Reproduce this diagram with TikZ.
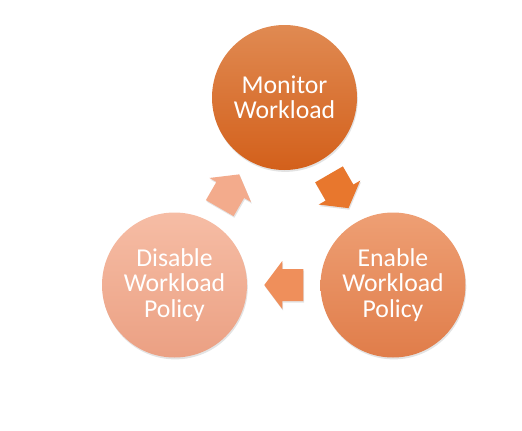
\documentclass[tikz,border=0pt]{standalone}
\usepackage{fontspec}
\setmainfont{Carlito}
\usetikzlibrary{calc}
\usetikzlibrary{shadows}

\definecolor{montop}{HTML}{E08A52}
\definecolor{monbot}{HTML}{D3601B}
\definecolor{enatop}{HTML}{EE9F74}
\definecolor{enabot}{HTML}{E07D4A}
\definecolor{distop}{HTML}{F6BDA5}
\definecolor{disbot}{HTML}{EBA083}
\definecolor{arrowtr}{HTML}{E8772D}
\definecolor{arrowbt}{HTML}{EF8F5B}
\definecolor{arrowtl}{HTML}{F3AB8C}

\begin{document}
\begin{tikzpicture}[x=0.75pt,y=0.75pt]

	\tikzset{
		stage/.style={circle, minimum size=108.75pt, inner sep=0pt, align=center,
			text=white, font=\fontsize{19.3}{18.9}\selectfont,
			drop shadow={opacity=0.22, shadow xshift=0.6pt, shadow yshift=-1.4pt}},
		cyclearrow/.pic={
			\fill[pic actions, drop shadow={opacity=0.22, shadow xshift=0.6pt, shadow yshift=-1.2pt}]
				(-19.5,-16) -- (1.5,-16) -- (1.5,-24) -- (19.5,0) -- (1.5,24) -- (1.5,16) -- (-19.5,16) -- cycle;
		}
	}

	\useasboundingbox (0,0) rectangle (522,430);

	%The three stages of the cycle
	\node [stage, top color=montop, bottom color=monbot](mon) at (284.5,332.5) {Monitor\\Workload};
	\node [stage, top color=enatop, bottom color=enabot](ena) at (393,145) {Enable\\Workload\\Policy};
	\node [stage, top color=distop, bottom color=disbot](dis) at (174.5,145) {Disable\\Workload\\Policy};

	%Block arrows half way between the stages
	\coordinate (mon-ena) at ($(mon)!0.5!(ena)$);
	\coordinate (ena-dis) at ($(ena)!0.5!(dis)$);
	\coordinate (dis-mon) at ($(dis)!0.5!(mon)$);

	\pic [fill=arrowtr, rotate=-60] at (mon-ena) {cyclearrow};
	\pic [fill=arrowbt, rotate=180] at (ena-dis) {cyclearrow};
	\pic [fill=arrowtl, rotate=60] at (dis-mon) {cyclearrow};

\end{tikzpicture}
\end{document}
